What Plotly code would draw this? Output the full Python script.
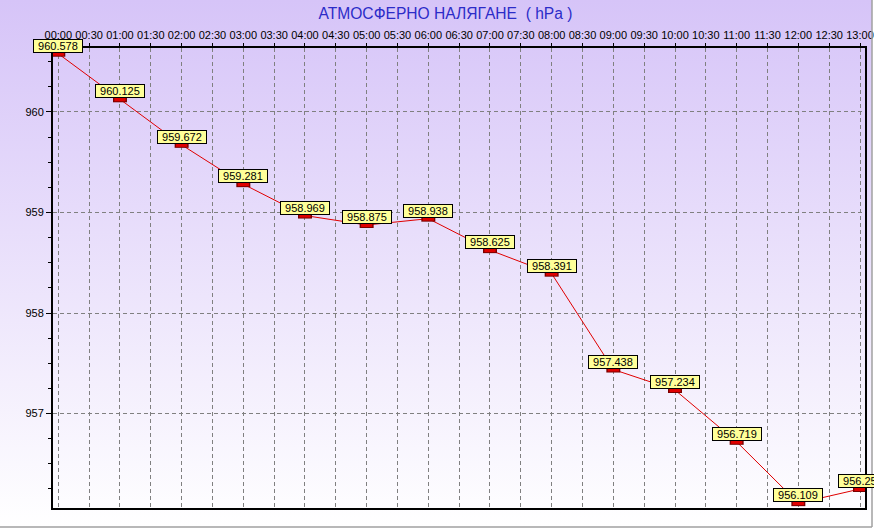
import base64
import plotly.graph_objects as go

# hourly readings
times = ["00:00", "01:00", "02:00", "03:00", "04:00", "05:00", "06:00",
         "07:00", "08:00", "09:00", "10:00", "11:00", "12:00", "13:00"]
pressure = [960.578, 960.125, 959.672, 959.281, 958.969, 958.875, 958.938,
            958.625, 958.391, 957.438, 957.234, 956.719, 956.109, 956.25]

tick_labels = ["00:00", "00:30", "01:00", "01:30", "02:00", "02:30", "03:00",
               "03:30", "04:00", "04:30", "05:00", "05:30", "06:00", "06:30",
               "07:00", "07:30", "08:00", "08:30", "09:00", "09:30", "10:00",
               "10:30", "11:00", "11:30", "12:00", "12:30", "13:00"]
y_ticks = [957, 958, 959, 960]

W, H = 874, 529
ML, MR, MT, MB = 53, 9, 48, 21
PW, PH = W - ML - MR, H - MT - MB


def to_hours(s):
    h, m = s.split(":")
    return int(h) + int(m) / 60


x = [to_hours(t) for t in times]
tick_x = [to_hours(t) for t in tick_labels]
labels = ["\u00a0" + f"{v:.3f}".rstrip("0").rstrip(".") + "\u00a0" for v in pressure]

FONT = "Arial, Liberation Sans, sans-serif"

# lavender -> white gradient behind everything
svg = ('<svg xmlns="http://www.w3.org/2000/svg" width="100" height="100" preserveAspectRatio="none">'
       '<defs><linearGradient id="g" x1="0" y1="0" x2="0" y2="1">'
       '<stop offset="0" stop-color="#D6C4F8"/><stop offset="1" stop-color="#FFFFFF"/>'
       '</linearGradient></defs><rect width="100" height="100" fill="url(#g)"/></svg>')
bg_src = "data:image/svg+xml;base64," + base64.b64encode(svg.encode()).decode()

fig = go.Figure()

fig.add_trace(go.Scatter(
    x=x, y=pressure,
    mode="lines+markers",
    line=dict(color="#E00000", width=1),
    marker=dict(symbol="line-ew", size=10, line=dict(color="#7A0000", width=6)),
    hoverinfo="skip",
    showlegend=False,
))
fig.add_trace(go.Scatter(
    x=x, y=pressure,
    mode="markers",
    marker=dict(symbol="line-ew", size=8, line=dict(color="#E00000", width=4)),
    hovertemplate="%{text}: %{y} hPa<extra></extra>",
    text=times,
    showlegend=False,
))

# yellow value boxes sit right on top of each marker
for xi, yi, lab in zip(x, pressure, labels):
    fig.add_annotation(
        x=xi, y=yi, text=lab, showarrow=False,
        xanchor="center", yanchor="bottom", yshift=1,
        height=10, borderpad=1,
        bgcolor="#FFFF99", bordercolor="#000000", borderwidth=1,
        font=dict(family=FONT, size=11, color="#000000"),
    )

fig.add_layout_image(
    source=bg_src, xref="paper", yref="paper",
    x=-ML / PW, y=1 + MT / PH, sizex=(W - 2) / PW, sizey=(H - 2) / PH,
    xanchor="left", yanchor="top", sizing="stretch", layer="below",
)

# grey frame at right / bottom edge of the window
fig.add_shape(type="line", xref="paper", yref="paper",
              x0=-ML / PW, x1=(W - ML - 2) / PW, y0=-(MB - 2) / PH, y1=-(MB - 2) / PH,
              line=dict(color="#A0A0A0", width=1.5))
fig.add_shape(type="line", xref="paper", yref="paper",
              x0=(W - ML - 2) / PW, x1=(W - ML - 2) / PW, y0=-(MB - 2) / PH, y1=1 + MT / PH,
              line=dict(color="#A0A0A0", width=1.5))

fig.update_xaxes(
    range=[-0.086, 13.081],
    side="top",
    tickmode="array", tickvals=tick_x, ticktext=tick_labels,
    tickangle=0,
    ticks="outside", ticklen=3, tickcolor="#000000",
    tickfont=dict(family=FONT, size=11, color="#000000"),
    showgrid=True, gridcolor="#808080", gridwidth=1, griddash="4px,3px",
    showline=True, linecolor="#000000", linewidth=2, mirror=True,
    zeroline=False, fixedrange=True, automargin=False,
)
fig.update_yaxes(
    range=[956.061, 960.635],
    tickmode="array", tickvals=y_ticks,
    ticks="outside", ticklen=5, tickcolor="#000000",
    minor=dict(dtick=0.25, tick0=956, ticks="outside", ticklen=3, tickcolor="#000000", showgrid=False),
    tickfont=dict(family=FONT, size=11, color="#000000"),
    showgrid=True, gridcolor="#808080", gridwidth=1, griddash="4px,3px",
    showline=True, linecolor="#000000", linewidth=2, mirror=True,
    zeroline=False, fixedrange=True, automargin=False,
)

fig.update_layout(
    width=W, height=H,
    margin=dict(l=ML, r=MR, t=MT, b=MB, pad=0, autoexpand=False),
    paper_bgcolor="#FFFFFF",
    plot_bgcolor="rgba(0,0,0,0)",
    title=dict(text="АТМОСФЕРНО НАЛЯГАНЕ  ( hPa )",
               x=445.5 / W, xanchor="center", y=1 - 14 / H, yanchor="middle",
               font=dict(family=FONT, size=15.6, color="#2C2CC8")),
    font=dict(family=FONT, size=11, color="#000000"),
)

# drop the default page margin so the chart fills the window exactly
fig.write_html("out.html", config={"displayModeBar": False},
               post_script="document.body.style.margin='0';")
